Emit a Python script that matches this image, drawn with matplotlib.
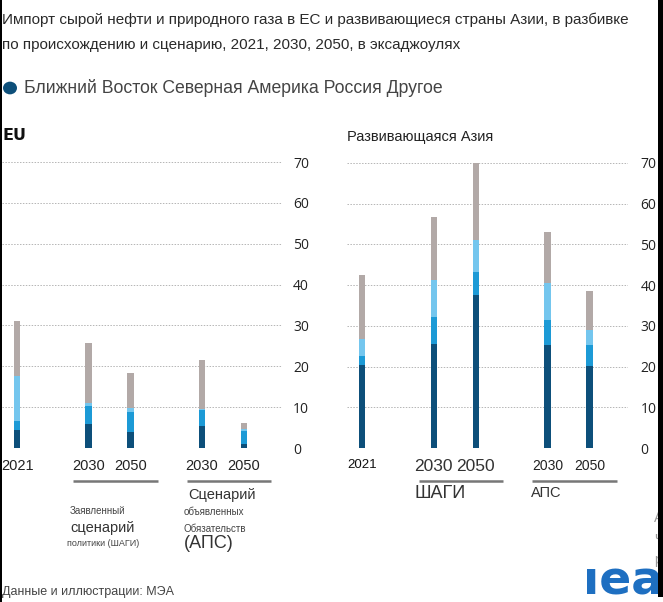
import matplotlib
matplotlib.use("Agg")
import matplotlib.pyplot as plt
import matplotlib.transforms as mtransforms
from matplotlib.patches import Rectangle, Circle

# data (exajoules)
years = ["2021", "2030", "2050", "2030", "2050"]
series = ["Ближний Восток", "Северная Америка", "Россия", "Другое"]
colors = ["#0d4f7a", "#1c9ad6", "#74c6ee", "#b2a9a7"]

eu_middle_east = [4.3, 5.8, 3.8, 5.5, 1.1]
eu_north_america = [2.4, 4.5, 5.0, 3.8, 3.1]
eu_russia = [11.0, 0.8, 0.9, 0.2, 0.4]
eu_other = [13.5, 14.6, 8.7, 12.1, 1.6]

asia_middle_east = [20.3, 25.6, 37.7, 25.3, 20.2]
asia_north_america = [2.4, 6.5, 5.5, 6.1, 5.1]
asia_russia = [4.0, 9.2, 8.0, 9.1, 3.7]
asia_other = [15.9, 15.4, 18.7, 12.6, 9.6]

yticks = [0, 10, 20, 30, 40, 50, 60, 70]

W, H = 663, 602
fig = plt.figure(figsize=(W / 100, H / 100), dpi=100)
fig.patch.set_facecolor("white")

SANS = "Liberation Sans"
NUM = "Open Sans"


def px(x, y):
    return x / W, 1 - y / H


def axes_box(x0, x1, ytop, ybot):
    return [x0 / W, 1 - ybot / H, (x1 - x0) / W, (ybot - ytop) / H]


positions = [0, 1.7, 2.7, 4.4, 5.4]
bar_w = 0.155


def draw_panel(ax, stacks, label_pad):
    bottom = [0] * len(positions)
    for vals, c in zip(stacks, colors):
        ax.bar(positions, vals, width=bar_w, bottom=bottom, color=c, linewidth=0, zorder=2)
        bottom = [b + v for b, v in zip(bottom, vals)]
    ax.set_ylim(0, 70)
    ax.set_xlim(-0.36, 6.31)
    ax.set_yticks(yticks)
    ax.yaxis.tick_right()
    ax.tick_params(axis="y", length=0, pad=label_pad, labelsize=10, labelcolor="#222")
    for lab in ax.get_yticklabels():
        lab.set_fontfamily(NUM)
    ax.grid(axis="y", linestyle=(0, (1.5, 1.5)), color="#b5b5b5", linewidth=0.7, zorder=0)
    ax.set_axisbelow(True)
    for s in ax.spines.values():
        s.set_visible(False)
    ax.set_xticks(positions, years)
    ax.tick_params(axis="x", length=0, pad=8)


def underline(ax, i, j):
    tr = mtransforms.blended_transform_factory(ax.transData, ax.transAxes)
    y = -(481 - 448) / 286
    ax.plot([positions[i] - 0.36, positions[j] + 0.65], [y, y], color="#777", lw=1.8,
            transform=tr, clip_on=False, solid_capstyle="butt")


# EU panel
ax1 = fig.add_axes(axes_box(2, 282, 162, 448))
draw_panel(ax1, [eu_middle_east, eu_north_america, eu_russia, eu_other], 8)
for lab in ax1.get_xticklabels():
    lab.set_fontfamily(SANS)
    lab.set_fontsize(10.5)
    lab.set_color("#222")
underline(ax1, 1, 2)
underline(ax1, 3, 4)

# Developing Asia panel
ax2 = fig.add_axes(axes_box(347, 628, 163, 448))
draw_panel(ax2, [asia_middle_east, asia_north_america, asia_russia, asia_other], 9)
sizes = [9.5, 12.5, 12.5, 10, 10]
cols = ["#111", "#333", "#333", "#222", "#222"]
for lab, s, c in zip(ax2.get_xticklabels(), sizes, cols):
    lab.set_fontfamily(SANS)
    lab.set_fontsize(s)
    lab.set_color(c)
underline(ax2, 1, 2)
underline(ax2, 3, 4)

# titles
fig.text(*px(2, 20), "Импорт сырой нефти и природного газа в ЕС и развивающиеся страны Азии, в разбивке",
         family=SANS, fontsize=11, color="#2a2a2a", va="center", ha="left")
fig.text(*px(2, 45), "по происхождению и сценарию, 2021, 2030, 2050, в эксаджоулях",
         family=SANS, fontsize=11, color="#2a2a2a", va="center", ha="left")

# legend (single dot as in the source)
fig.patches.append(Circle(px(10, 88), radius=7 / W, transform=fig.transFigure,
                          facecolor=colors[0], edgecolor="none"))
fig.text(*px(24, 88), " ".join(series), family=SANS, fontsize=12.7, color="#444",
         va="center", ha="left")

fig.text(*px(2, 135), "EU", family="DejaVu Sans", fontsize=11.5, fontweight="semibold",
         color="#111", va="center", ha="left")
fig.text(*px(347, 137), "Развивающаяся Азия", family=SANS, fontsize=10.5, color="#222",
         va="center", ha="left")

# scenario captions under the EU panel
fig.text(*px(188, 495), "Сценарий", family=SANS, fontsize=10.5, color="#333", va="center")
fig.text(*px(184, 512), "объявленных", family=SANS, fontsize=7, color="#444", va="center")
fig.text(*px(184, 529), "Обязательств", family=SANS, fontsize=7, color="#444", va="center")
fig.text(*px(184, 544), "(АПС)", family=SANS, fontsize=13, color="#333", va="center")
fig.text(*px(70, 511), "Заявленный", family=SANS, fontsize=7, color="#444", va="center")
fig.text(*px(70, 528), "сценарий", family=SANS, fontsize=10.5, color="#333", va="center")
fig.text(*px(67, 544), "политики (ШАГИ)", family=SANS, fontsize=6.5, color="#444", va="center")

# scenario captions under the Asia panel
fig.text(*px(414, 493), "ШАГИ", family=SANS, fontsize=13, color="#333", va="center")
fig.text(*px(531, 493), "АПС", family=SANS, fontsize=10.5, color="#333", va="center")

fig.text(*px(2, 592), "Данные и иллюстрации: МЭА", family=SANS, fontsize=9, color="#444",
         va="center")

# clipped side text and logo
for ch, y in zip(["А", "ч", "р"], [518, 538, 560]):
    fig.text(*px(654, y), ch, family=SANS, fontsize=10, color="#999", va="center")
fig.text(*px(583, 582), "ıea", family="DejaVu Sans", fontsize=34, fontweight="bold",
         color="#1e6fc1", va="center", ha="left")

# frame strips
fig.patches.append(Rectangle((0, 0), 2 / W, 1, transform=fig.transFigure,
                             facecolor="black", edgecolor="none", zorder=10))
fig.patches.append(Rectangle((658 / W, 5 / H), 5 / W, 1, transform=fig.transFigure,
                             facecolor="black", edgecolor="none", zorder=10))

fig.savefig("out.png", dpi=100)
